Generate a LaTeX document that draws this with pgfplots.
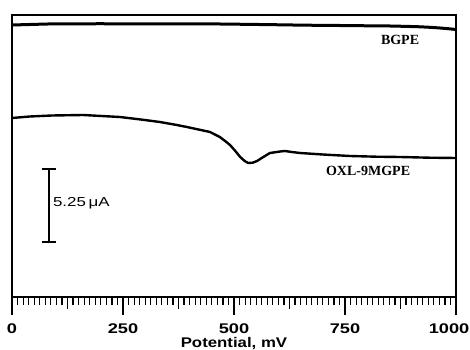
\documentclass[border=0pt]{standalone}
\usepackage{pgfplots}
\pgfplotsset{compat=1.18}
\usepackage{fontspec}
\setmainfont{Liberation Serif}
\setsansfont{Liberation Sans}
\begin{document}
\begin{tikzpicture}
\useasboundingbox (-12bp,-53bp) rectangle (458bp,297bp);
\begin{axis}[
  at={(0,0)}, anchor=south west,
  scale only axis, width=444bp, height=282bp,
  xmin=0, xmax=1000, ymin=0, ymax=282,
  axis line style={line width=2bp},
  ytick=\empty,
  xtick={0,250,500,750,1000},
  xticklabels={\scalebox{1.3}[1]{0},\scalebox{1.3}[1]{250},\scalebox{1.3}[1]{500},\scalebox{1.3}[1]{750},{\hspace*{-14bp}\scalebox{1.3}[1]{1000}}},
  minor x tick num=19,
  tick align=outside,
  xtick pos=bottom,
  major tick length=18bp,
  minor tick length=8bp,
  every tick/.style={black, line width=1.2bp},
  extra x ticks={125,375,625,875},
  extra x tick labels={},
  extra x tick style={major tick length=12bp},
  xticklabel style={font=\sffamily\bfseries\fontsize{14bp}{15bp}\selectfont, anchor=base, yshift=-18bp},
  clip=false,
]
\addplot[black, line width=3bp] coordinates {
(0,272) (40,272.5) (97,273.2) (150,273) (198,273.3) (250,273) (311,273.1) (380,273) (468,273) (540,272.6) (604,272.2) (660,271.8) (716,271.6) (780,271.3) (851,271) (890,270.6) (919,270.2) (945,269.6) (964,269) (985,268.2) (1000,267.5)
};
\addplot[black, line width=2.4bp] coordinates {
(0,179) (40,180.5) (90,181.5) (160,182) (243,180) (290,177.5) (333,175) (365,172.5) (394,170) (420,167.5) (446,165) (468,160) (480,156) (491,152) (503,146) (514,140) (524,136) (532,134) (542,134.3) (552,136) (566,140) (581,144) (604,145.5) (615,146) (630,145) (649,144) (700,142.5) (761,141) (820,140.3) (874,140) (940,139.3) (1000,139)
};
\draw[line width=1.5bp] (axis cs:83,128) -- (axis cs:83,55);
\draw[line width=1.5bp] (axis cs:67,128) -- (axis cs:99,128);
\draw[line width=1.5bp] (axis cs:67,55) -- (axis cs:99,55);
\node[anchor=west, font=\sffamily\fontsize{13bp}{14bp}\selectfont, inner sep=0pt] at (axis cs:92,94) {\scalebox{1.3}[1]{5.25\,μA}};
\node[font=\bfseries\fontsize{14bp}{15bp}\selectfont] at (axis cs:874,257) {BGPE};
\node[font=\bfseries\fontsize{14bp}{15bp}\selectfont] at (axis cs:802,126) {OXL-9MGPE};
\node[anchor=base, inner sep=0pt, yshift=-50bp, font=\sffamily\bfseries\fontsize{14bp}{15bp}\selectfont] at (axis description cs:0.5,0) {\scalebox{1.2}[1]{Potential, mV}};
\end{axis}
\end{tikzpicture}
\end{document}
